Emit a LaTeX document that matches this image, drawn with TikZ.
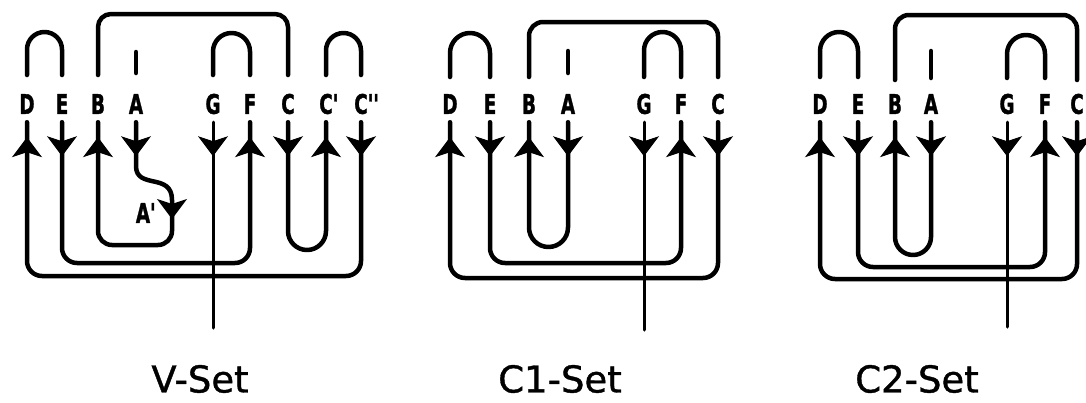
\documentclass[tikz,border=0pt]{standalone}
\usepackage{fontspec}
\usepackage{graphicx}
\setmainfont{DejaVu Sans}
\newfontfamily\labfam[FakeBold=1.5]{DejaVu Sans Bold}
\newfontfamily\setfam[FakeBold=1]{DejaVu Sans}
\usetikzlibrary{arrows.meta}
\newcommand\lt[1]{\scalebox{0.68}[1]{#1}}
\newcommand\labfont{\fontsize{27}{27}\labfam}
\tikzset{
  lab/.style={font=\labfont, inner sep=0pt, minimum height=36pt, minimum width=10pt},
  setlab/.style={font=\fontsize{37}{37}\setfam, inner sep=0pt},
  wire/.style={line width=4.5pt, line cap=round, line join=round},
  thinwire/.style={line width=3pt, line cap=round},
  head/.style={line width=1pt, -{Stealth[length=20pt,width=30pt,inset=5pt]}},
}
\begin{document}
\begin{tikzpicture}[x=1pt,y=-1pt]
\useasboundingbox (0,0) rectangle (1086,402);
% ---------------- V-Set ----------------
\node[lab] (vD) at (27,104) {\lt{D}};
\node[lab] (vE) at (62,104) {\lt{E}};
\node[lab] (vB) at (98,104) {\lt{B}};
\node[lab] (vA) at (136,104) {\lt{A}};
\node[lab] (vG) at (213,104) {\lt{G}};
\node[lab] (vF) at (250,104) {\lt{F}};
\node[lab] (vC) at (288,104) {\lt{C}};
\node[lab] (vCp) at (326,104) {\lt{C}\rlap{\lt{'}}};
\node[lab] (vCpp) at (361,104) {\lt{C}\rlap{\lt{''}}};
\node[lab] (vAp) at (143,213) {\lt{A}\rlap{\lt{'}}};
\coordinate (vGend) at (213,328);
% top arches
\draw[wire, rounded corners=17.5pt] (vD.north |- 0,75) -- (27,32) -- (62,32) -- (vE.north |- 0,75);
\draw[wire, rounded corners=13pt] (vB.north |- 0,75) -- (98,14) -- (288,14) -- (vC.north |- 0,75);
\draw[wire] (vA.north |- 0,73) -- (vA.north |- 0,52);
\draw[wire, rounded corners=18.5pt] (vG.north |- 0,75) -- (213,33) -- (250,33) -- (vF.north |- 0,75);
\draw[wire, rounded corners=17.5pt] (vCp.north |- 0,75) -- (326,33) -- (361,33) -- (vCpp.north |- 0,75);
% loops
\draw[wire, rounded corners=15pt] (vD.south) -- (27,276) -- (361,276) -- (vCpp.south);
\draw[wire, rounded corners=15pt] (vE.south) -- (62,263) -- (250,263) -- (vF.south);
\draw[wire, rounded corners=19pt] (vC.south) -- (288,250) -- (326,250) -- (vCp.south);
\draw[wire] (vA.south) -- (136,166) .. controls (136,190) and (172,172) .. (172,200)
  [rounded corners=14pt] -- (172,245) -- (98,245) -- (vB.south);
\draw[thinwire] (vG.south) -- (vGend);
% arrowheads
\foreach \n in {vD,vB,vF,vCp} \draw[head] ([yshift=-35pt]\n.south) -- ([yshift=-15pt]\n.south);
\foreach \n in {vE,vA,vG,vC,vCpp} \draw[head] ([yshift=-16pt]\n.south) -- ([yshift=-34pt]\n.south);
\draw[head] (172,201) -- (172,219);
\node[setlab] (vset) at (200,379) {V-Set};
% ---------------- C1-Set ----------------
\node[lab] (cD) at (450,104) {\lt{D}};
\node[lab] (cE) at (490,104) {\lt{E}};
\node[lab] (cB) at (529,104) {\lt{B}};
\node[lab] (cA) at (568,104) {\lt{A}};
\node[lab] (cG) at (644,104) {\lt{G}};
\node[lab] (cF) at (681,104) {\lt{F}};
\node[lab] (cC) at (718,104) {\lt{C}};
\coordinate (cGend) at (644,330);
\draw[wire, rounded corners=20pt] (cD.north |- 0,77) -- (450,33) -- (490,33) -- (cE.north |- 0,77);
\draw[wire, rounded corners=14pt] (cB.north |- 0,77) -- (529,22) -- (718,22) -- (cC.north |- 0,77);
\draw[wire] (cA.north |- 0,73) -- (cA.north |- 0,51);
\draw[wire, rounded corners=18.5pt] (cG.north |- 0,77) -- (644,32) -- (681,32) -- (cF.north |- 0,77);
\draw[wire, rounded corners=15pt] (cD.south) -- (450,278) -- (718,278) -- (cC.south);
\draw[wire, rounded corners=15pt] (cE.south) -- (490,263) -- (681,263) -- (cF.south);
\draw[wire, rounded corners=19.5pt] (cB.south) -- (529,247) -- (568,247) -- (cA.south);
\draw[thinwire] (cG.south) -- (cGend);
\foreach \n in {cD,cB,cF} \draw[head] ([yshift=-35pt]\n.south) -- ([yshift=-15pt]\n.south);
\foreach \n in {cE,cA,cG,cC} \draw[head] ([yshift=-16pt]\n.south) -- ([yshift=-34pt]\n.south);
\node[setlab] (c1set) at (560,379) {C1-Set};
% ---------------- C2-Set ----------------
\node[lab] (dD) at (820,104) {\lt{D}};
\node[lab] (dE) at (858,104) {\lt{E}};
\node[lab] (dB) at (895,104) {\lt{B}};
\node[lab] (dA) at (931,104) {\lt{A}};
\node[lab] (dG) at (1007,104) {\lt{G}};
\node[lab] (dF) at (1045,104) {\lt{F}};
\node[lab] (dC) at (1077,104) {\lt{C}};
\coordinate (dGend) at (1007,327);
\draw[wire, rounded corners=19pt] (dD.north |- 0,77) -- (820,32) -- (858,32) -- (dE.north |- 0,77);
\draw[wire, rounded corners=14pt] (dB.north |- 0,80) -- (895,15) -- (1077,15) -- (dC.north |- 0,80);
\draw[wire] (dA.north |- 0,78) -- (dA.north |- 0,51);
\draw[wire, rounded corners=19pt] (dG.north |- 0,78) -- (1007,35) -- (1045,35) -- (dF.north |- 0,78);
\draw[wire, rounded corners=15pt] (dD.south) -- (820,279) -- (1077,279) -- (dC.south);
\draw[wire, rounded corners=15pt] (dE.south) -- (858,267) -- (1045,267) -- (dF.south);
\draw[wire, rounded corners=18pt] (dB.south) -- (895,255) -- (931,255) -- (dA.south);
\draw[thinwire] (dG.south) -- (dGend);
\foreach \n in {dD,dB,dF} \draw[head] ([yshift=-35pt]\n.south) -- ([yshift=-15pt]\n.south);
\foreach \n in {dE,dA,dG,dC} \draw[head] ([yshift=-16pt]\n.south) -- ([yshift=-34pt]\n.south);
\node[setlab] (c2set) at (917,379) {C2-Set};
\end{tikzpicture}
\end{document}
